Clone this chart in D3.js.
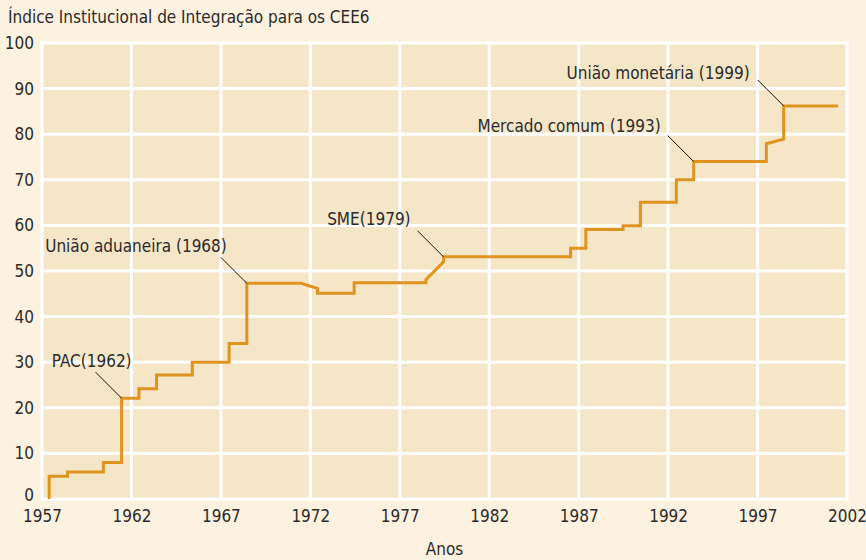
<!DOCTYPE html>
<html>
<head>
<meta charset="utf-8">
<script src="https://cdn.jsdelivr.net/npm/d3@7"></script>
<style>
  html, body { margin: 0; padding: 0; background: #fdf1df; }
  svg { display: block; }
  text { font-family: "DejaVu Sans Condensed", "Liberation Sans Narrow", sans-serif; fill: #2b2b2b; }
</style>
</head>
<body>
<div id="chart"></div>
<script>
/* Data */
const title = "Índice Institucional de Integração para os CEE6";
const xLabel = "Anos";
const xTicks = [1957, 1962, 1967, 1972, 1977, 1982, 1987, 1992, 1997, 2002];
const yTicks = [0, 10, 20, 30, 40, 50, 60, 70, 80, 90, 100];

// vertices of the index line (year, value)
const lineYears = [1957.4, 1957.4, 1958.43, 1958.43, 1960.43, 1960.43, 1961.45, 1961.45,
  1962.42, 1962.42, 1963.4, 1963.4, 1965.4, 1965.4, 1967.46, 1967.46, 1968.45, 1968.45,
  1971.47, 1972.4, 1972.4, 1974.45, 1974.45, 1978.46, 1978.46, 1979.45, 1979.45,
  1986.55, 1986.55, 1987.4, 1987.4, 1989.48, 1989.48, 1990.45, 1990.45, 1992.46, 1992.46,
  1993.43, 1993.43, 1997.49, 1997.49, 1998.46, 1998.46, 2001.5];
const lineValues = [0, 5, 5, 5.9, 5.9, 8, 8, 22.1,
  22.1, 24.2, 24.2, 27.2, 27.2, 30, 30, 34.1, 34.1, 47.3,
  47.3, 46.2, 45.1, 45.1, 47.4, 47.4, 48.1, 52, 53.1,
  53.1, 55, 55, 59.1, 59.1, 59.9, 59.9, 65.1, 65.1, 70,
  70, 74, 74, 77.9, 78.9, 86.2, 86.2];

// annotated events
const eventLabels = ["PAC(1962)", "União aduaneira (1968)", "SME(1979)", "Mercado comum (1993)", "União monetária (1999)"];
const eventYears = [1961.45, 1968.45, 1979.45, 1993.43, 1998.46];
const eventValues = [22.1, 47.3, 53.1, 74, 86.2];

/* Layout */
const width = 866, height = 560;
const margins = {top: 43, right: 19, bottom: 61, left: 42};
const fontSize = "17px";
const labelOffsets = [[10, -31.5], [-20, -31.5], [-33, -31.5], [-33, -29.5], [-34, -26.5]];

const svg = d3.select("#chart")
    .append("svg")
    .attr("width", width)
    .attr("height", height);

svg.append("rect")
    .attr("width", width).attr("height", height)
    .attr("fill", "#fdf1df");

const xScale = d3.scaleLinear()
    .domain([1957, 2002])
    .range([margins.left, width - margins.right]);
const yScale = d3.scaleLinear()
    .domain([0, 100])
    .range([height - margins.bottom, margins.top]);

/* plot background */
svg.append("rect")
    .attr("x", xScale(1957)).attr("y", yScale(100))
    .attr("width", xScale(2002) - xScale(1957))
    .attr("height", yScale(0) - yScale(100))
    .attr("fill", "#f5e6c8");

/* white grid */
const grid = svg.append("g").attr("stroke", "#ffffff").attr("stroke-width", 3);
grid.selectAll("line.v").data(xTicks).join("line")
    .attr("class", "v")
    .attr("x1", d => xScale(d)).attr("x2", d => xScale(d))
    .attr("y1", yScale(100) - 1.5).attr("y2", yScale(0) + 1.5);
grid.selectAll("line.h").data(yTicks).join("line")
    .attr("class", "h")
    .attr("x1", xScale(1957) - 1.5).attr("x2", xScale(2002) + 1.5)
    .attr("y1", d => yScale(d)).attr("y2", d => yScale(d));

/* axes, labels only */
const xAxis = svg.append("g")
    .attr("transform", `translate(0,${yScale(0)})`)
    .call(d3.axisBottom(xScale).tickValues(xTicks).tickFormat(d3.format("d")).tickSize(0).tickPadding(11));
xAxis.select(".domain").remove();
xAxis.selectAll("text")
    .attr("fill", "#2b2b2b")
    .style("font-size", fontSize)
    .style("font-family", null);

const yAxis = svg.append("g")
    .attr("transform", `translate(${margins.left},0)`)
    .call(d3.axisLeft(yScale).tickValues(yTicks).tickSize(0).tickPadding(8));
yAxis.select(".domain").remove();
yAxis.selectAll("text")
    .attr("fill", "#2b2b2b")
    .attr("dy", d => d === 0 ? "0.1em" : "0.32em") // zero sits a bit higher, clear of 1957
    .style("font-size", fontSize)
    .style("font-family", null);

/* title and axis label */
svg.append("text")
    .attr("x", 8).attr("y", 23)
    .style("font-size", fontSize)
    .text(title);

svg.append("text")
    .attr("x", (xScale(1957) + xScale(2002)) / 2)
    .attr("y", 555)
    .attr("text-anchor", "middle")
    .style("font-size", fontSize)
    .text(xLabel);

/* index line */
const points = lineYears.map((yr, i) => [yr, lineValues[i]]);
const line = d3.line()
    .x(d => xScale(d[0]))
    .y(d => yScale(d[1]));

svg.append("path")
    .datum(points)
    .attr("fill", "none")
    .attr("stroke", "#df941f")
    .attr("stroke-width", 3)
    .attr("stroke-linejoin", "miter")
    .attr("d", line);

/* annotations */
const events = eventLabels.map((label, i) => ({label, year: eventYears[i], value: eventValues[i], off: labelOffsets[i]}));
const ann = svg.append("g").selectAll("g").data(events).join("g");

ann.append("line")
    .attr("x1", d => xScale(d.year)).attr("y1", d => yScale(d.value))
    .attr("x2", d => xScale(d.year) - 26).attr("y2", d => yScale(d.value) - 26)
    .attr("stroke", "#111")
    .attr("stroke-width", 1);

ann.append("text")
    .attr("x", d => xScale(d.year) + d.off[0])
    .attr("y", d => yScale(d.value) + d.off[1])
    .attr("text-anchor", "end")
    .style("font-size", fontSize)
    .text(d => d.label);
</script>
</body>
</html>
